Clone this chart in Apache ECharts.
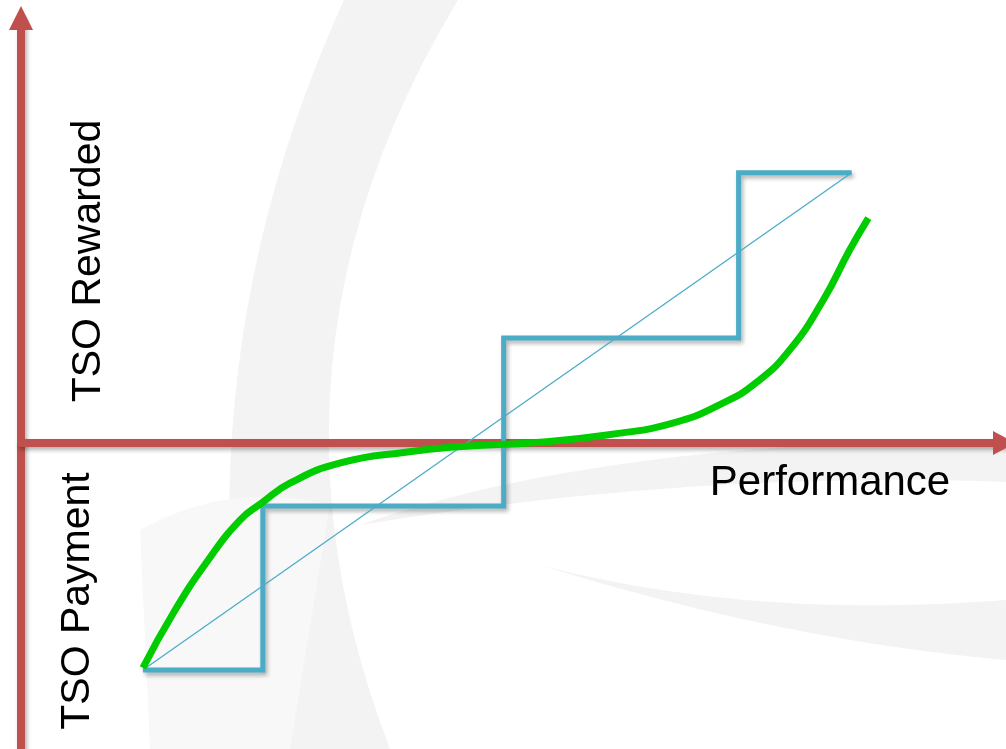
<!DOCTYPE html>
<html>
<head>
<meta charset="utf-8">
<script src="https://cdn.jsdelivr.net/npm/echarts@6/dist/echarts.min.js"></script>
<style>
  html, body { margin: 0; padding: 0; background: #fff; }
  #chart { width: 1006px; height: 749px; }
</style>
</head>
<body>
<div id="chart"></div>
<script>
// performance (x) / payment-reward (y)
var stepX = [12.4, 24.6, 24.6, 49.1, 49.1, 73.0, 73.0, 84.5];
var stepY = [-53.4, -53.4, -14.8, -14.8, 24.7, 24.7, 63.6, 63.6];

var diagX = [12.4, 84.5];
var diagY = [-53.4, 63.6];

var curveX = [12.4, 15.5, 18.9, 22.3, 24.5, 27.4, 32.5, 39.3, 44.4, 52.8, 59.6, 66.3, 71.4, 74.9, 78.2, 81.6, 84.3, 86.2];
var curveY = [-52.9, -40.0, -28.0, -18.1, -14.1, -9.4, -4.7, -2.1, -0.9, 0.2, 1.9, 4.7, 9.4, 14.4, 21.9, 33.6, 45.4, 52.9];

var yLabelTop = 'TSO Rewarded';
var yLabelBottom = 'TSO Payment';
var xLabel = 'Performance';

function pairs(xs, ys) {
    var out = [];
    for (var i = 0; i < xs.length; i++) {
        out.push([xs[i], ys[i]]);
    }
    return out;
}

// quadratic bezier sampled into polygon points (background decoration only)
function quad(p0, c, p1) {
    var pts = [];
    for (var i = 0; i <= 24; i++) {
        var t = i / 24, u = 1 - t;
        pts.push([u * u * p0[0] + 2 * u * t * c[0] + t * t * p1[0],
                  u * u * p0[1] + 2 * u * t * c[1] + t * t * p1[1]]);
    }
    return pts;
}
function band(a, b) {
    return a.concat(b);
}

var chart = echarts.init(document.getElementById('chart'));

var axisRed = '#c0504d';
var blue = '#4bacc6';
var shadow = {
    shadowColor: 'rgba(0,0,0,0.3)',
    shadowBlur: 4,
    shadowOffsetX: 2,
    shadowOffsetY: 3
};

var option = {
    animation: false,
    backgroundColor: '#fff',
    grid: {
        left: 21,
        right: 2,
        top: 18,
        bottom: 0
    },
    graphic: [
        // faint watermark swooshes
        {
            type: 'polygon',
            z: -10,
            shape: { points: band(quad([344, 0], [180, 360], [250, 749]), quad([390, 749], [240, 360], [458, 0])) },
            style: { fill: '#f3f3f3' }
        },
        {
            type: 'polygon',
            z: -10,
            shape: { points: band(quad([140, 530], [230, 480], [330, 505]), [[290, 749], [150, 749]]) },
            style: { fill: '#f8f8f8' }
        },
        {
            type: 'polygon',
            z: -10,
            shape: { points: band(quad([360, 525], [600, 440], [1006, 440]), quad([1006, 482], [700, 470], [360, 525])) },
            style: { fill: '#f3f3f3' }
        },
        {
            type: 'polygon',
            z: -10,
            shape: { points: band(quad([540, 565], [750, 620], [1006, 600]), quad([1006, 660], [780, 640], [540, 565])) },
            style: { fill: '#f3f3f3' }
        },
        {
            type: 'text',
            x: 89,
            y: 261,
            rotation: Math.PI / 2,
            style: {
                text: yLabelTop,
                fill: '#000',
                font: '41px "Liberation Sans"',
                textAlign: 'center',
                textVerticalAlign: 'middle'
            }
        },
        {
            type: 'text',
            x: 78,
            y: 601,
            rotation: Math.PI / 2,
            style: {
                text: yLabelBottom,
                fill: '#000',
                font: '41px "Liberation Sans"',
                textAlign: 'center',
                textVerticalAlign: 'middle'
            }
        },
        {
            type: 'text',
            x: 830,
            y: 483,
            style: {
                text: xLabel,
                fill: '#000',
                font: '42px "Liberation Sans"',
                textAlign: 'center',
                textVerticalAlign: 'middle'
            }
        }
    ],
    xAxis: {
        type: 'value',
        min: 0,
        max: 100,
        axisLine: {
            onZero: true,
            symbol: ['none', 'triangle'],
            symbolSize: [24, 22],
            lineStyle: Object.assign({ color: axisRed, width: 8 }, shadow)
        },
        axisTick: { show: false },
        axisLabel: { show: false },
        splitLine: { show: false }
    },
    yAxis: {
        type: 'value',
        min: -72,
        max: 100,
        axisLine: {
            show: true,
            onZero: true,
            symbol: ['none', 'triangle'],
            symbolSize: [24, 24],
            lineStyle: Object.assign({ color: axisRed, width: 8 }, shadow)
        },
        axisTick: { show: false },
        axisLabel: { show: false },
        splitLine: { show: false }
    },
    series: [
        {
            name: 'steps',
            type: 'line',
            data: pairs(stepX, stepY),
            symbol: 'none',
            z: 3,
            lineStyle: Object.assign({ color: blue, width: 5, join: 'miter' }, shadow)
        },
        {
            name: 'linear',
            type: 'line',
            data: pairs(diagX, diagY),
            symbol: 'none',
            z: 3,
            lineStyle: { color: blue, width: 1.3 }
        },
        {
            name: 'curve',
            type: 'line',
            data: pairs(curveX, curveY),
            symbol: 'none',
            smooth: true,
            z: 4,
            lineStyle: { color: '#00cc00', width: 7, cap: 'butt' }
        }
    ]
};

chart.setOption(option);
</script>
</body>
</html>
